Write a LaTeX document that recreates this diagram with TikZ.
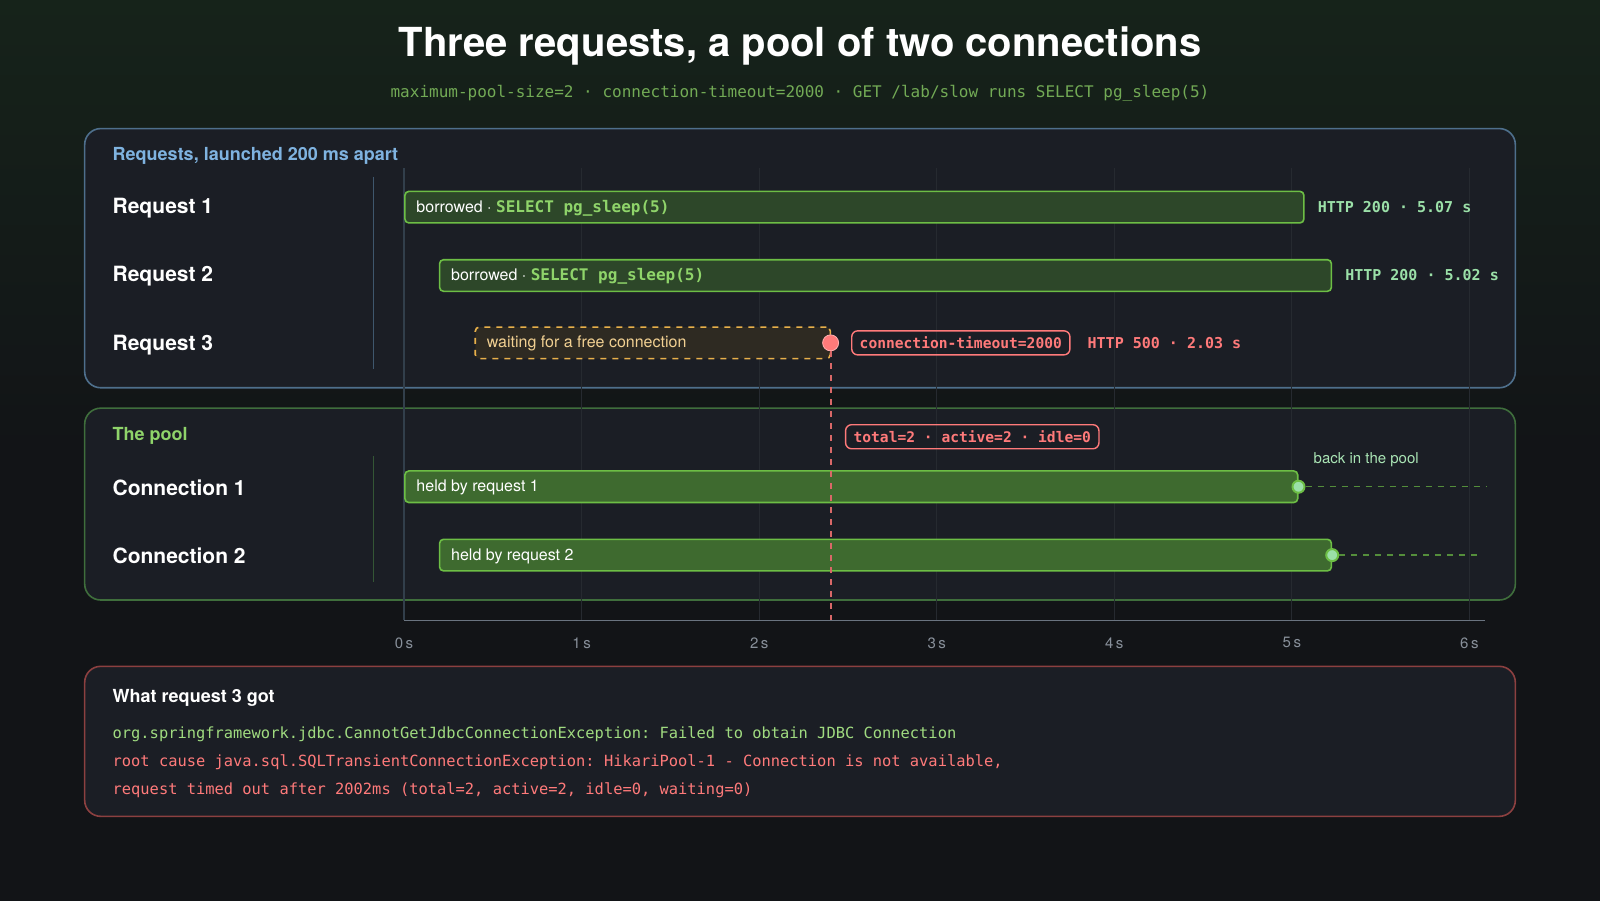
\documentclass[tikz,border=0pt]{standalone}
\usepackage{fontspec}
\setmainfont{TeX Gyre Heros}
\setmonofont{DejaVu Sans Mono}
\usetikzlibrary{positioning}
\definecolor{bgdark}{HTML}{121417}
\definecolor{bgtop}{HTML}{16231A}
\definecolor{panel}{HTML}{1B1E25}
\definecolor{blueedge}{HTML}{4E6F8C}
\definecolor{greenedge}{HTML}{3F6E3C}
\definecolor{rededge}{HTML}{8C4040}
\definecolor{bluetext}{HTML}{7FB3E0}
\definecolor{greentext}{HTML}{8FD46A}
\definecolor{tealtext}{HTML}{9BE0A8}
\definecolor{redtext}{HTML}{FF7A7A}
\definecolor{barfill}{HTML}{2D4729}
\definecolor{baredge}{HTML}{6DBE45}
\definecolor{connfill}{HTML}{3E6A2F}
\definecolor{waitfill}{HTML}{2E2A22}
\definecolor{waitedge}{HTML}{E8B04A}
\definecolor{gridline}{HTML}{262A30}
\definecolor{axisline}{HTML}{6A7480}
\tikzset{
  panelbox/.style={rounded corners=8pt,fill=panel,line width=0.8pt},
  rowlabel/.style={anchor=west,inner sep=0pt,text=white,font=\fontsize{10.5}{12}\selectfont\bfseries},
  paneltitle/.style={anchor=west,inner sep=0pt,font=\fontsize{9}{11}\selectfont\bfseries},
  bar/.style={anchor=west,draw=baredge,fill=barfill,line width=0.8pt,rounded corners=2pt,
    minimum height=15.8pt,inner sep=0pt,text=white,font=\fontsize{8}{10}\selectfont},
  bartext/.style={anchor=west,inner sep=0pt,font=\fontsize{8}{10}\selectfont},
  connbar/.style={bar,fill=connfill},
  tag/.style={draw=redtext,rounded corners=3pt,line width=0.7pt,text=redtext,
    font=\ttfamily\bfseries\fontsize{7.3}{9}\selectfont,inner xsep=4pt,inner ysep=3pt},
  status/.style={anchor=west,font=\ttfamily\bfseries\fontsize{7.5}{9}\selectfont},
  endpt/.style={circle,draw=baredge,fill=tealtext,line width=1pt,minimum size=6pt,inner sep=0pt},
  tick/.style={text=axisline!80!white,font=\fontsize{7.5}{9}\selectfont},
  errline/.style={anchor=west,inner sep=0pt,font=\ttfamily\fontsize{7.7}{10}\selectfont}
}
\begin{document}
\begin{tikzpicture}[x=0.5102pt,y=-0.5102pt]
  % background
  \shade[top color=bgtop,bottom color=bgdark,middle color=bgdark] (0,0) rectangle (1568,882);
  \useasboundingbox (0,0) rectangle (1568,882);

  % title
  \node[text=white,font=\fontsize{20}{24}\selectfont\bfseries] (title) at (784,45) {Three requests, a pool of two connections};
  \node[text=greentext!80!black,font=\ttfamily\fontsize{8}{10}\selectfont] (subtitle) at (784,91)
    {maximum-pool-size=2 · connection-timeout=2000 · GET /lab/slow runs SELECT pg\_sleep(5)};

  % panels
  \draw[panelbox,draw=blueedge] (83,126) rectangle (1485,380);
  \draw[panelbox,draw=greenedge] (83,400) rectangle (1485,588);
  \draw[panelbox,draw=rededge] (83,653) rectangle (1485,800);

  % time grid
  \foreach \s in {0,...,6}
    \draw[gridline,line width=0.6pt] ({396+174*\s},165) -- ({396+174*\s},608);
  \draw[gridline!70!blueedge,line width=0.6pt] (396,165) -- (396,608);
  \draw[axisline,line width=0.8pt] (396,608) -- (1455,608);
  \foreach \s in {0,...,6}
    \node[tick] (t\s) at ({396+174*\s},630) {\s\,s};

  % requests
  \node[paneltitle,text=bluetext] (reqhead) at (110,153) {Requests, launched 200 ms apart};
  \draw[blueedge!70!panel,line width=0.8pt] (366,173) -- (366,362);
  \node[rowlabel] (req1) at (110,204) {Request 1};
  \node[rowlabel] (req2) at (110,271) {Request 2};
  \node[rowlabel] (req3) at (110,338) {Request 3};

  \node[bar,minimum width=449.5pt] (r1) at (396,203) {};
  \node[bartext,text=white] (r1txt) at ([xshift=6pt,yshift=-0.5pt]r1.west)
    {borrowed · {\ttfamily\bfseries\color{greentext}SELECT pg\_sleep(5)}};
  \node[status,text=tealtext,right=3pt of r1] (r1http) {HTTP 200 · 5.07 s};

  \node[bar,minimum width=445.9pt] (r2) at (430,270) {};
  \node[bartext,text=white] (r2txt) at ([xshift=6pt,yshift=-0.5pt]r2.west)
    {borrowed · {\ttfamily\bfseries\color{greentext}SELECT pg\_sleep(5)}};
  \node[status,text=tealtext,right=3pt of r2] (r2http) {HTTP 200 · 5.02 s};

  \node[bar,draw=waitedge,fill=waitfill,dashed,minimum width=177.5pt] (r3) at (465,336) {};
  \node[bartext,text=waitedge!60!white] (r3txt) at ([xshift=6pt,yshift=-0.5pt]r3.west)
    {waiting for a free connection};
  \node[circle,fill=redtext,draw=redtext!60!white,minimum size=8pt,inner sep=0pt] (fail) at (814,336) {};
  \node[tag,anchor=west] (timeout) at (834,336) {connection-timeout=2000};
  \node[status,text=redtext,right=5pt of timeout] (r3http) {HTTP 500 · 2.03 s};

  % pool
  \node[paneltitle,text=greentext] (poolhead) at (110,427) {The pool};
  \draw[greenedge!70!panel,line width=0.8pt] (366,447) -- (366,570);
  \node[rowlabel] (conn1) at (110,478) {Connection 1};
  \node[rowlabel] (conn2) at (110,545) {Connection 2};
  \node[tag,anchor=west] (state) at (828,428) {total=2 · active=2 · idle=0};

  \node[connbar,minimum width=446.4pt] (c1) at (396,477) {};
  \node[bartext,text=white] (c1txt) at ([xshift=6pt,yshift=-0.5pt]c1.west) {held by request 1};
  \node[endpt] (c1end) at (c1.east) {};
  \coordinate (c1free) at (1457,477);
  \draw[baredge!70!panel,dashed,line width=0.7pt] (c1end) -- (c1free);
  \node[anchor=west,inner sep=0pt,text=tealtext!85!white,font=\fontsize{7.5}{9}\selectfont] (back) at (1287,450) {back in the pool};

  \node[connbar,minimum width=445.9pt] (c2) at (430,544) {};
  \node[bartext,text=white] (c2txt) at ([xshift=6pt,yshift=-0.5pt]c2.west) {held by request 2};
  \node[endpt] (c2end) at (c2.east) {};
  \coordinate (c2free) at (1452,544);
  \draw[baredge!70!panel,dashed,line width=0.7pt] (c2end) -- (c2free);

  % timeout marker
  \coordinate (axfail) at (814,608);
  \draw[redtext!85!black,dashed,line width=1pt] (fail) -- (axfail);

  % error panel
  \node[paneltitle,text=white] (errhead) at (110,684) {What request 3 got};
  \node[errline,text=greentext!85!white] (err1) at (110,720)
    {org.springframework.jdbc.CannotGetJdbcConnectionException: Failed to obtain JDBC Connection};
  \node[errline,text=redtext] (err2) at (110,747)
    {root cause java.sql.SQLTransientConnectionException: HikariPool-1 - Connection is not available,};
  \node[errline,text=redtext] (err3) at (110,774)
    {request timed out after 2002ms (total=2, active=2, idle=0, waiting=0)};
\end{tikzpicture}
\end{document}
